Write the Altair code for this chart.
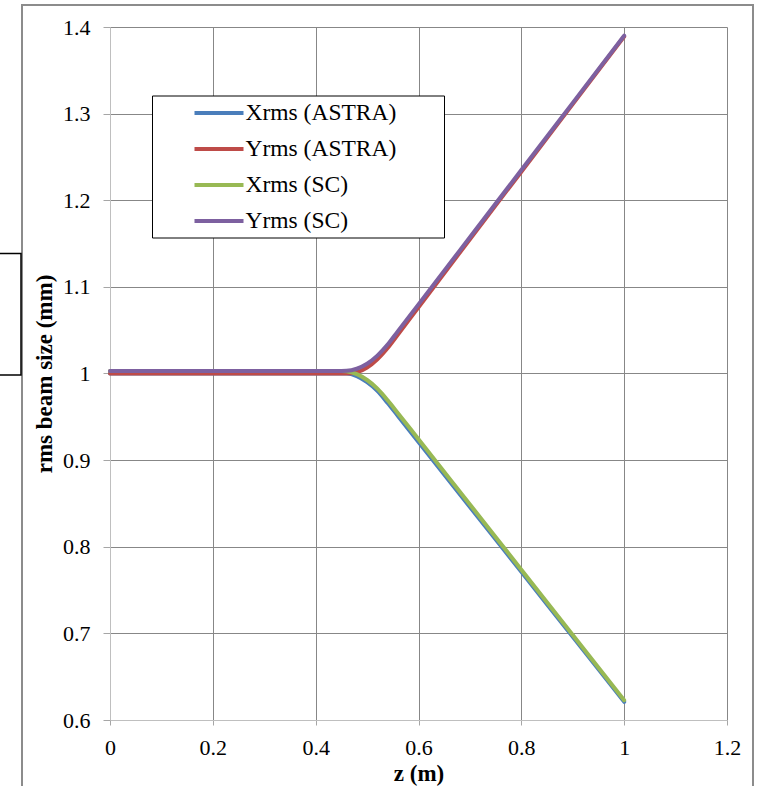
import altair as alt
import pandas as pd

# ---- data ----
z = [0.0, 0.1, 0.2, 0.3, 0.4, 0.45, 0.46, 0.48, 0.50, 0.52, 0.54, 0.56, 0.60, 0.70, 0.80, 0.90, 1.00]
xrms_astra = [1.000, 1.000, 1.000, 1.000, 1.000, 1.000, 1.000, 0.997, 0.990, 0.980, 0.966, 0.951, 0.921, 0.846, 0.771, 0.696, 0.621]
yrms_astra = [1.000, 1.000, 1.000, 1.000, 1.000, 1.000, 1.000, 1.0015, 1.007, 1.0165, 1.0295, 1.045, 1.0765, 1.155, 1.233, 1.311, 1.389]
xrms_sc = [1.003, 1.003, 1.003, 1.003, 1.003, 1.003, 1.0026, 0.9992, 0.9925, 0.9825, 0.9691, 0.9542, 0.9241, 0.8488, 0.7735, 0.6982, 0.6229]
yrms_sc = [1.003, 1.003, 1.003, 1.003, 1.003, 1.003, 1.0031, 1.0055, 1.0113, 1.0206, 1.0334, 1.0489, 1.0798, 1.1573, 1.2349, 1.3124, 1.390]

series_names = ["Xrms (ASTRA)", "Yrms (ASTRA)", "Xrms (SC)", "Yrms (SC)"]
series_colors = ["#4A7EBB", "#BE4B48", "#98B954", "#7D60A0"]
x_ticks = [0, 0.2, 0.4, 0.6, 0.8, 1.0, 1.2]
y_ticks = [0.6, 0.7, 0.8, 0.9, 1.0, 1.1, 1.2, 1.3, 1.4]

rows = []
for name, vals in zip(series_names, [xrms_astra, yrms_astra, xrms_sc, yrms_sc]):
    for zi, v in zip(z, vals):
        rows.append({"z": zi, "size": v, "series": name})
df = pd.DataFrame(rows)

FONT = "Liberation Serif"
one = alt.Data(values=[{"k": 1}])

frame = alt.Chart(one).mark_rect(fill="transparent", stroke="#8C8C8C", strokeWidth=2).encode(
    x=alt.value(-88), x2=alt.value(643), y=alt.value(-22), y2=alt.value(900)
)
side_box = alt.Chart(one).mark_rect(fill="transparent", stroke="black", strokeWidth=1.5).encode(
    x=alt.value(-130), x2=alt.value(-89), y=alt.value(226.5), y2=alt.value(348)
)

lines = alt.Chart(df).mark_line(strokeWidth=4, interpolate="monotone", strokeCap="round").encode(
    x=alt.X("z:Q",
            scale=alt.Scale(domain=[0, 1.2], nice=False, zero=False),
            axis=alt.Axis(values=x_ticks, format="~g", title="z (m)",
                          titleY=53, titleBaseline="middle", labelFlush=False,
                          tickSize=5, labelPadding=12)),
    y=alt.Y("size:Q",
            scale=alt.Scale(domain=[0.6, 1.4], nice=False, zero=False),
            axis=alt.Axis(values=y_ticks, format="~g", title="rms beam size (mm)",
                          titleX=-66, titleY=346.5, titleAlign="center", titleBaseline="middle",
                          labelFlush=False, tickSize=7, labelPadding=13)),
    color=alt.Color("series:N",
                    scale=alt.Scale(domain=series_names, range=series_colors),
                    legend=alt.Legend(orient="none", legendX=82.5, legendY=68, title=None,
                                      symbolType="stroke", symbolSize=2401, symbolStrokeWidth=4,
                                      labelFont=FONT, labelFontSize=23.5, labelColor="black",
                                      labelOffset=0, rowPadding=0, clipHeight=36,
                                      padding=0, labelLimit=400)),
)

legend_box = alt.Chart(one).mark_rect(fill="white", stroke="black", strokeWidth=1).encode(
    x=alt.value(42.5), x2=alt.value(334.5), y=alt.value(69), y2=alt.value(211)
)

chart = alt.layer(frame, side_box, lines, legend_box).properties(
    width=617, height=693,
    padding={"left": 110, "top": 27, "right": 32, "bottom": 66},
    autosize=alt.AutoSizeParams(type="none"),
    background="white",
).configure_view(stroke="transparent").configure_axis(
    labelFont=FONT, labelFontSize=22, labelColor="black",
    titleFont=FONT, titleFontSize=23, titleFontWeight="bold", titleColor="black",
    gridColor="#878787", gridWidth=1, domainColor="#BFBFBF", tickColor="#A6A6A6",
)

chart.save("out.html", embed_options={"renderer": "svg", "actions": False})
